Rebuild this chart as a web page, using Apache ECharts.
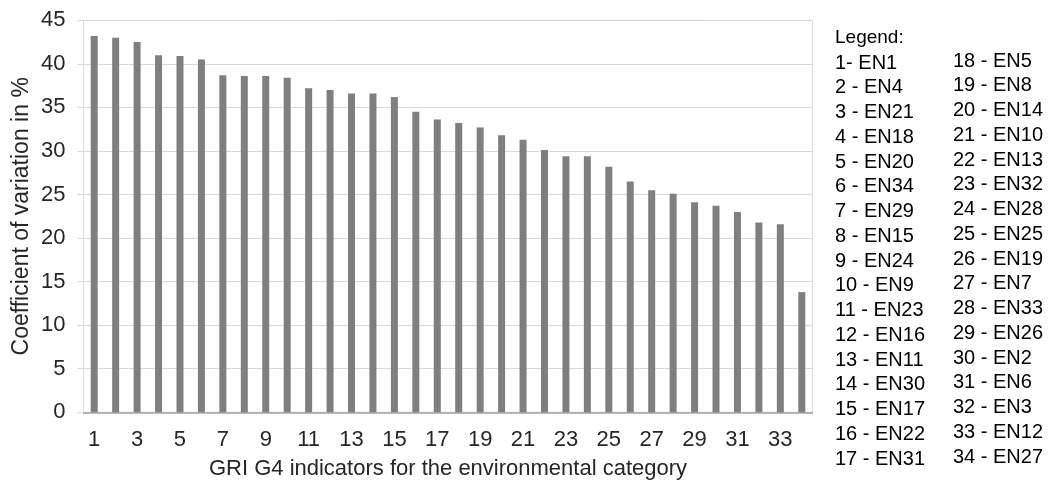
<!DOCTYPE html>
<html>
<head>
<meta charset="utf-8">
<script src="https://cdn.jsdelivr.net/npm/echarts@6/dist/echarts.min.js"></script>
<style>
html,body{margin:0;padding:0;background:#fff;}
#chart{width:1049px;height:483px;}
</style>
</head>
<body>
<div id="chart"></div>
<script>
const categories = ["1","2","3","4","5","6","7","8","9","10","11","12","13","14","15","16","17","18","19","20","21","22","23","24","25","26","27","28","29","30","31","32","33","34"];
const cvValues = [43.2, 43.0, 42.5, 41.0, 40.9, 40.5, 38.7, 38.6, 38.6, 38.4, 37.2, 37.0, 36.6, 36.6, 36.2, 34.5, 33.6, 33.2, 32.7, 31.8, 31.3, 30.1, 29.4, 29.4, 28.2, 26.5, 25.5, 25.1, 24.1, 23.7, 23.0, 21.8, 21.6, 13.8];
const yTicks = [0, 5, 10, 15, 20, 25, 30, 35, 40, 45];
const legendTitle = "Legend:";
const legendCol1 = ["1- EN1","2 - EN4","3 - EN21","4 - EN18","5 - EN20","6 - EN34","7 - EN29","8 - EN15","9 - EN24","10 - EN9","11 - EN23","12 - EN16","13 - EN11","14 - EN30","15 - EN17","16 - EN22","17 - EN31"];
const legendCol2 = ["18 - EN5","19 - EN8","20 - EN14","21 - EN10","22 - EN13","23 - EN32","24 - EN28","25 - EN25","26 - EN19","27 - EN7","28 - EN33","29 - EN26","30 - EN2","31 - EN6","32 - EN3","33 - EN12","34 - EN27"];
const xTitle = "GRI G4 indicators for the environmental category";
const yTitle = "Coefficient of variation in %";

const FONT = "Liberation Sans, Arial, sans-serif";
const chart = echarts.init(document.getElementById('chart'), null, {renderer: 'canvas'});

const graphics = [];
graphics.push({type: 'text', left: 835, top: 28, style: {text: legendTitle, font: '19px ' + FONT, fill: '#000'}});
legendCol1.forEach((t, i) => graphics.push({type: 'text', left: 835, top: 53 + i * 24.75, style: {text: t, font: '20px ' + FONT, fill: '#000'}}));
legendCol2.forEach((t, i) => graphics.push({type: 'text', left: 953, top: 51 + i * 24.75, style: {text: t, font: '20px ' + FONT, fill: '#000'}}));

chart.setOption({
  animation: false,
  backgroundColor: '#fff',
  textStyle: {fontFamily: FONT},
  grid: {left: 83.5, right: 236.5, top: 20.3, bottom: 70.7, containLabel: false, outerBoundsMode: 'none', show: true, borderColor: '#d9d9d9', borderWidth: 1},
  xAxis: {
    type: 'category',
    data: categories,
    name: xTitle,
    nameLocation: 'middle',
    nameGap: 46,
    nameMoveOverlap: false,
    nameTextStyle: {fontSize: 22, color: '#262626'},
    axisLine: {show: true, lineStyle: {color: '#a0a0a0', width: 1.5}},
    axisTick: {show: false},
    axisLabel: {interval: 1, fontSize: 22, color: '#262626', margin: 17}
  },
  yAxis: {
    type: 'value',
    min: yTicks[0],
    max: yTicks[yTicks.length - 1],
    interval: 5,
    name: yTitle,
    nameLocation: 'middle',
    nameGap: 50,
    nameMoveOverlap: false,
    nameTextStyle: {fontSize: 23, color: '#262626'},
    axisLine: {show: true, lineStyle: {color: '#d9d9d9'}},
    axisTick: {show: true, length: 6, lineStyle: {color: '#d9d9d9'}},
    axisLabel: {fontSize: 22, color: '#262626', margin: 18},
    splitLine: {show: true, lineStyle: {color: '#d9d9d9', width: 1}}
  },
  series: [{
    type: 'bar',
    data: cvValues,
    barWidth: 7,
    itemStyle: {color: '#7f7f7f'}
  }],
  graphic: graphics
});
</script>
</body>
</html>
